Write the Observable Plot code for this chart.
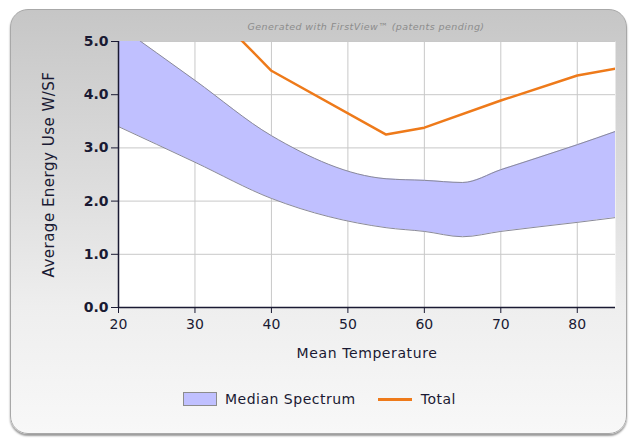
<!DOCTYPE html>
<html>
<head>
<meta charset="utf-8">
<script src="https://cdn.jsdelivr.net/npm/d3@7"></script>
<script src="https://cdn.jsdelivr.net/npm/@observablehq/plot@0.6"></script>
<style>
  html, body { margin: 0; padding: 0; background: #ffffff; }
  #wrap { position: relative; width: 635px; height: 438px; overflow: hidden; font-family: "DejaVu Sans", sans-serif; }
  #panel { position: absolute; left: 10px; top: 9px; width: 617px; height: 425px; border-radius: 18px;
    background: linear-gradient(to bottom, #c6c6c6 0%, #cdcdcd 12%, #dcdcdc 40%, #eeeeee 70%, #f8f8f8 100%);
    border: 1px solid #a8a8a8; box-shadow: 0 2px 2px #9a9a9a; box-sizing: border-box; }
  #title { position: absolute; left: 0; width: 732px; top: 21px; text-align: center; font-style: italic;
    font-size: 9.5px; color: #8c8c8c; letter-spacing: 0.45px; }
  #chart { position: absolute; left: 0; top: 0; }
  #legend { position: absolute; top: 391px; left: 183px; display: flex; align-items: center; font-size: 14px; color: #1a1a33; letter-spacing: 0.5px; }
  .sw { width: 34px; height: 14px; background: #c0c0ff; border: 1.5px solid #8c8c8c; box-sizing: border-box; margin-right: 8px; }
  .ln { width: 34px; height: 3px; background: #ee7a1a; margin-left: 22px; margin-right: 9px; }
</style>
</head>
<body>
<div id="wrap">
  <div id="panel"></div>
  <div id="title">Generated with FirstView™ (patents pending)</div>
  <div id="chart"></div>
  <div id="legend"><div class="sw"></div><span>Median Spectrum</span><div class="ln"></div><span>Total</span></div>
</div>
<script>
// Median spectrum band (Mean Temperature vs W/SF)
const bandTemps = [20, 30, 40, 55, 60, 65, 70, 80, 85];
const bandLow   = [3.40, 2.73, 2.05, 1.50, 1.43, 1.33, 1.43, 1.60, 1.69];
const bandHigh  = [5.30, 4.27, 3.23, 2.42, 2.39, 2.35, 2.59, 3.06, 3.31];

// Total line
const totalTemps  = [35, 40, 55, 60, 70, 80, 85];
const totalValues = [5.18, 4.45, 3.25, 3.38, 3.89, 4.36, 4.49];

const xTicks = [20, 30, 40, 50, 60, 70, 80];
const yTicks = [0, 1, 2, 3, 4, 5];

const band = bandTemps.map((t, i) => ({t, lo: bandLow[i], hi: bandHigh[i]}));
const total = totalTemps.map((t, i) => ({t, v: totalValues[i]}));

const ink = "#1a1a33";
const curve = "monotone-x";

const chart = Plot.plot({
  width: 635,
  height: 438,
  marginLeft: 118,
  marginRight: 20,
  marginTop: 41,
  marginBottom: 131,
  style: {background: "transparent", fontFamily: "DejaVu Sans, sans-serif", color: ink},
  x: {domain: [20, 85]},
  y: {domain: [0, 5]},
  marks: [
    Plot.frame({fill: "white", stroke: "none"}),
    Plot.gridX(xTicks.slice(1), {stroke: "#c8c8c8", strokeOpacity: 1}),
    Plot.gridY(yTicks.slice(1), {stroke: "#c8c8c8", strokeOpacity: 1}),
    Plot.areaY(band, {x: "t", y1: "lo", y2: "hi", fill: "#c0c0ff", curve, clip: true}),
    Plot.lineY(band, {x: "t", y: "lo", stroke: "#8a8a99", strokeWidth: 1, curve, clip: true}),
    Plot.lineY(band, {x: "t", y: "hi", stroke: "#8a8a99", strokeWidth: 1, curve, clip: true}),
    Plot.lineY(total, {x: "t", y: "v", stroke: "#ee7a1a", strokeWidth: 2.5, clip: true}),
    Plot.axisX({ticks: xTicks, tickSize: 6, tickPadding: 6, fontSize: 14, stroke: ink,
      label: "Mean Temperature", labelAnchor: "center", labelOffset: 50, labelArrow: "none"}),
    Plot.axisY({ticks: yTicks, tickFormat: d3.format(".1f"), tickSize: 7, tickPadding: 3, fontSize: 14, fontWeight: "bold", stroke: ink,
      label: "Average Energy Use W/SF", labelAnchor: "center", labelOffset: 75, labelArrow: "none"}),
    Plot.ruleX([20], {stroke: ink, strokeWidth: 1.5}),
    Plot.ruleY([0], {stroke: ink, strokeWidth: 1.5})
  ]
});
chart.querySelectorAll("g[aria-label='x-axis label'], g[aria-label='y-axis label']").forEach(g => {
  const isY = g.getAttribute("aria-label") === "y-axis label";
  g.setAttribute("font-size", isY ? "15" : "14");
  g.setAttribute("font-weight", "normal");
  g.style.letterSpacing = isY ? "0.5px" : "0.6px";
  g.querySelectorAll("text").forEach(t => { t.setAttribute("font-weight", "normal"); t.style.fontWeight = "normal"; });
});
document.getElementById("chart").appendChild(chart);
</script>
</body>
</html>
